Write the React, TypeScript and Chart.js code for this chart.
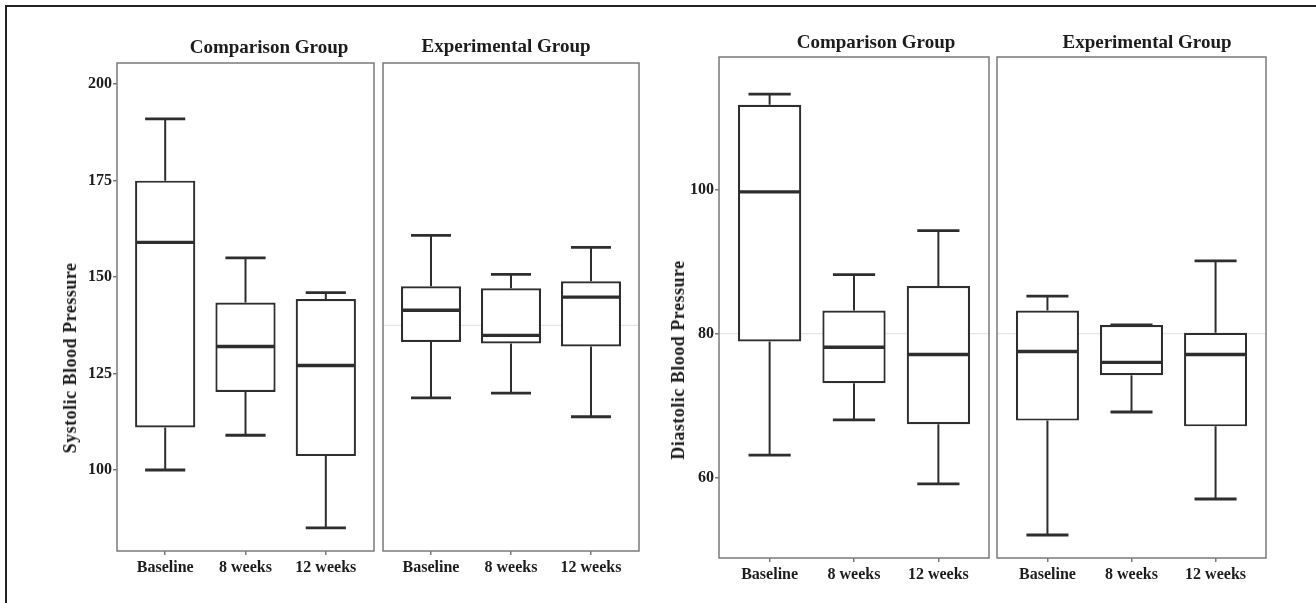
import React, { useEffect, useRef } from "react";
import { Chart, registerables } from "chart.js";

Chart.register(...registerables);

// ---------- DATA ----------
const categories = ["Baseline", "8 weeks", "12 weeks"];

// Systolic – Comparison Group
const sysCompLow = [100, 109, 85];
const sysCompQ1 = [111, 120.2, 103.6];
const sysCompMed = [159, 132, 127.1];
const sysCompQ3 = [175, 143.4, 144.3];
const sysCompHigh = [191, 155, 146];

// Systolic – Experimental Group
const sysExpLow = [118.7, 119.9, 113.8];
const sysExpQ1 = [133.2, 132.8, 132];
const sysExpMed = [141.4, 134.9, 144.8];
const sysExpQ3 = [147.6, 147.1, 148.9];
const sysExpHigh = [160.8, 150.7, 157.7];

// Diastolic – Comparison Group
const diaCompLow = [63.1, 68, 59.1];
const diaCompQ1 = [78.9, 73.1, 67.4];
const diaCompMed = [99.7, 78.1, 77.1];
const diaCompQ3 = [111.8, 83.2, 86.6];
const diaCompHigh = [113.3, 88.2, 94.3];

// Diastolic – Experimental Group
const diaExpLow = [52, 69.1, 57];
const diaExpQ1 = [67.9, 74.2, 67.1];
const diaExpMed = [77.5, 76.0, 77.1];
const diaExpQ3 = [83.2, 81.2, 80.1];
const diaExpHigh = [85.2, 81.2, 90.1];

// axes
const sysTicks = [100, 125, 150, 175, 200];
const sysMin = 79;
const sysMax = 205.5;
const sysRef = [137.5];

const diaTicks = [60, 80, 100];
const diaMin = 48.8;
const diaMax = 118.45;
const diaRef = [80];

// ---------- STYLE ----------
const FONT = "'Liberation Serif', 'Times New Roman', serif";
const TEXT = "#1c1c1c";
const LINE = "#2e2e2e";
const FRAME = "#7a7a7a";

Chart.defaults.font.family = FONT;

type FacetProps = {
  x0: number;
  x1: number;
  y0: number;
  y1: number;
  showY: boolean;
  yMin: number;
  yMax: number;
  yTicks: number[];
  low: number[];
  q1: number[];
  med: number[];
  q3: number[];
  high: number[];
  refs: number[];
};

const AXIS_W = 40;
const XAXIS_H = 36;
const PAD_TOP = 20;
const PAD_SIDE = 2;

function BoxFacet(p: FacetProps) {
  const ref = useRef<HTMLCanvasElement>(null);
  const left = p.showY ? p.x0 - AXIS_W : p.x0 - PAD_SIDE;
  const top = p.y0 - PAD_TOP;
  const width = p.x1 + PAD_SIDE - left;
  const height = p.y1 + XAXIS_H - top;

  useEffect(() => {
    if (!ref.current) return;
    const boxPlugin = {
      id: "boxExtras",
      beforeDatasetsDraw(chart: any) {
        const { ctx, chartArea, scales } = chart;
        const xs = scales.x;
        const ys = scales.y;
        ctx.save();
        // faint reference line(s)
        ctx.strokeStyle = "#e6e6e6";
        ctx.lineWidth = 1.2;
        p.refs.forEach((r) => {
          const y = ys.getPixelForValue(r);
          ctx.beginPath();
          ctx.moveTo(chartArea.left, y);
          ctx.lineTo(chartArea.right, y);
          ctx.stroke();
        });
        // whiskers
        ctx.strokeStyle = LINE;
        categories.forEach((_, i) => {
          const cx = xs.getPixelForValue(i + 1);
          const half = xs.getPixelForValue(1.25) - xs.getPixelForValue(1);
          const yl = ys.getPixelForValue(p.low[i]);
          const yh = ys.getPixelForValue(p.high[i]);
          const yq1 = ys.getPixelForValue(p.q1[i]);
          const yq3 = ys.getPixelForValue(p.q3[i]);
          ctx.lineWidth = 2;
          ctx.beginPath();
          ctx.moveTo(cx, yh);
          ctx.lineTo(cx, yq3);
          ctx.moveTo(cx, yq1);
          ctx.lineTo(cx, yl);
          ctx.stroke();
          ctx.lineWidth = 2.8;
          ctx.beginPath();
          ctx.moveTo(cx - half, yh);
          ctx.lineTo(cx + half, yh);
          ctx.moveTo(cx - half, yl);
          ctx.lineTo(cx + half, yl);
          ctx.stroke();
        });
        ctx.restore();
      },
      afterDatasetsDraw(chart: any) {
        const { ctx, chartArea, scales } = chart;
        const xs = scales.x;
        const ys = scales.y;
        ctx.save();
        ctx.strokeStyle = LINE;
        ctx.lineWidth = 3.4;
        categories.forEach((_, i) => {
          const x0 = xs.getPixelForValue(i + 1 - 0.375);
          const x1 = xs.getPixelForValue(i + 1 + 0.375);
          const y = ys.getPixelForValue(p.med[i]);
          ctx.beginPath();
          ctx.moveTo(x0 + 1, y);
          ctx.lineTo(x1 - 1, y);
          ctx.stroke();
        });
        // panel frame
        ctx.strokeStyle = FRAME;
        ctx.lineWidth = 1.5;
        ctx.strokeRect(
          chartArea.left,
          chartArea.top,
          chartArea.right - chartArea.left,
          chartArea.bottom - chartArea.top
        );
        ctx.restore();
      },
    };

    const chart = new Chart(ref.current, {
      type: "bar",
      data: {
        datasets: [
          {
            data: categories.map((_, i) => ({ x: i + 1, y: [p.q1[i], p.q3[i]] })) as any,
            backgroundColor: "#ffffff",
            borderColor: LINE,
            borderWidth: 2.2,
            borderSkipped: false,
            barPercentage: 0.75,
            categoryPercentage: 1,
          },
        ],
      },
      options: {
        animation: false,
        responsive: false,
        maintainAspectRatio: false,
        layout: {
          padding: {
            top: PAD_TOP,
            right: PAD_SIDE,
            left: p.showY ? 0 : PAD_SIDE,
            bottom: 0,
          },
        },
        plugins: {
          legend: { display: false },
          tooltip: { enabled: false },
          title: { display: false },
        },
        scales: {
          x: {
            type: "linear",
            offset: false,
            min: 0.4,
            max: 3.6,
            afterBuildTicks: (s: any) => {
              s.ticks = categories.map((_, i) => ({ value: i + 1 }));
            },
            afterFit: (s: any) => {
              s.height = XAXIS_H;
            },
            grid: {
              display: true,
              offset: false,
              drawOnChartArea: false,
              drawTicks: true,
              tickLength: 4,
              color: FRAME,
              lineWidth: 1.5,
            },
            border: { display: false },
            ticks: {
              callback: (v: any) => categories[Math.round(Number(v)) - 1],
              autoSkip: false,
              maxRotation: 0,
              minRotation: 0,
              padding: 3,
              color: TEXT,
              font: { size: 16, weight: "bold", family: FONT },
            },
          },
          y: {
            type: "linear",
            display: p.showY,
            offset: false,
            min: p.yMin,
            max: p.yMax,
            afterBuildTicks: (s: any) => {
              s.ticks = p.yTicks.map((v) => ({ value: v }));
            },
            afterFit: (s: any) => {
              s.width = p.showY ? AXIS_W : 0;
            },
            grid: {
              display: true,
              drawOnChartArea: false,
              drawTicks: true,
              tickLength: 4,
              color: FRAME,
              lineWidth: 1.5,
            },
            border: { display: false },
            ticks: {
              padding: 1,
              color: TEXT,
              font: { size: 16, weight: "bold", family: FONT },
            },
          },
        },
      } as any,
      plugins: [boxPlugin],
    });
    return () => chart.destroy();
  }, []);

  return (
    <canvas
      ref={ref}
      width={width}
      height={height}
      style={{ position: "absolute", left, top, width, height }}
    />
  );
}

function Label(props: { text: string; cx: number; cy: number; size: number; rotate?: boolean; spacing?: number }) {
  return (
    <div
      style={{
        position: "absolute",
        left: props.cx,
        top: props.cy,
        transform: `translate(-50%, -50%)${props.rotate ? " rotate(-90deg)" : ""}`,
        whiteSpace: "nowrap",
        fontFamily: FONT,
        fontWeight: "bold",
        fontSize: props.size,
        color: TEXT,
        letterSpacing: props.spacing ?? 0,
        lineHeight: 1,
      }}
    >
      {props.text}
    </div>
  );
}

export default function App() {
  return (
    <div
      style={{
        position: "absolute",
        left: 0,
        top: 0,
        width: 1316,
        height: 603,
        background: "#ffffff",
        overflow: "hidden",
      }}
    >
      {/* outer frame (top + left) */}
      <div style={{ position: "absolute", left: 5, top: 5, width: 1311, height: 2, background: "#222" }} />
      <div style={{ position: "absolute", left: 5, top: 5, width: 2, height: 598, background: "#222" }} />

      {/* Systolic */}
      <BoxFacet
        x0={117} x1={374} y0={63} y1={551}
        showY={true} yMin={sysMin} yMax={sysMax} yTicks={sysTicks}
        low={sysCompLow} q1={sysCompQ1} med={sysCompMed} q3={sysCompQ3} high={sysCompHigh}
        refs={[]}
      />
      <BoxFacet
        x0={383} x1={639} y0={63} y1={551}
        showY={false} yMin={sysMin} yMax={sysMax} yTicks={sysTicks}
        low={sysExpLow} q1={sysExpQ1} med={sysExpMed} q3={sysExpQ3} high={sysExpHigh}
        refs={sysRef}
      />
      <Label text="Comparison Group" cx={269} cy={46} size={19} />
      <Label text="Experimental Group" cx={506} cy={45} size={19} />
      <Label text="Systolic Blood Pressure" cx={70} cy={358} size={18} rotate spacing={0.5} />

      {/* Diastolic */}
      <BoxFacet
        x0={719} x1={989} y0={57} y1={558}
        showY={true} yMin={diaMin} yMax={diaMax} yTicks={diaTicks}
        low={diaCompLow} q1={diaCompQ1} med={diaCompMed} q3={diaCompQ3} high={diaCompHigh}
        refs={diaRef}
      />
      <BoxFacet
        x0={997} x1={1266} y0={57} y1={558}
        showY={false} yMin={diaMin} yMax={diaMax} yTicks={diaTicks}
        low={diaExpLow} q1={diaExpQ1} med={diaExpMed} q3={diaExpQ3} high={diaExpHigh}
        refs={diaRef}
      />
      <Label text="Comparison Group" cx={876} cy={41} size={19} />
      <Label text="Experimental Group" cx={1147} cy={41} size={19} />
      <Label text="Diastolic Blood Pressure" cx={678} cy={360} size={18} rotate spacing={0.5} />
    </div>
  );
}
